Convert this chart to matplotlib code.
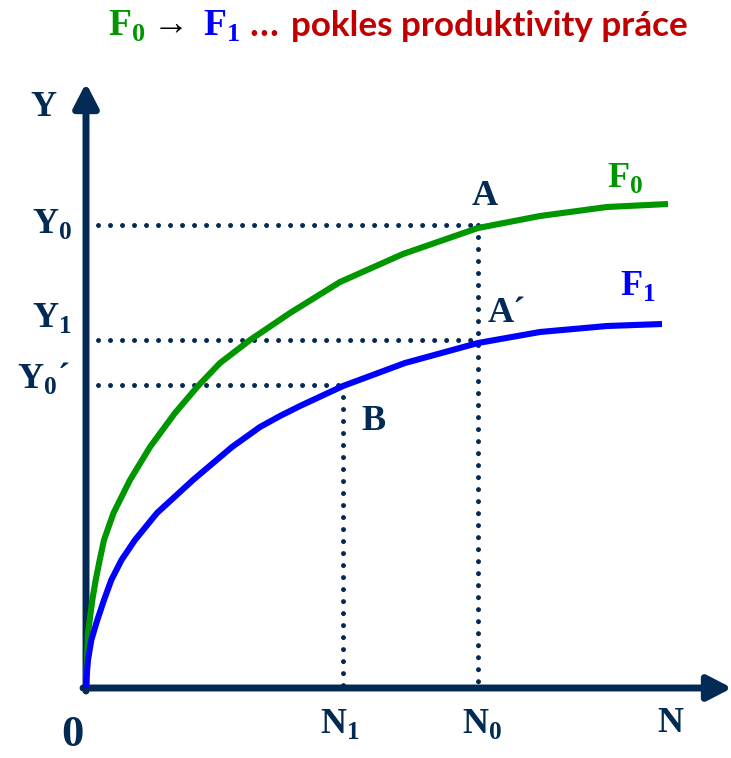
import matplotlib
matplotlib.use("Agg")
import matplotlib.pyplot as plt

plt.rcParams["mathtext.fontset"] = "custom"
plt.rcParams["mathtext.rm"] = "Liberation Serif"
plt.rcParams["mathtext.bf"] = "Liberation Serif:bold"

# production functions (N = labour, Y = output)
f0_n = [0, 0.1, 0.2, 0.37, 0.63, 0.97, 1.37, 1.8, 2.75, 4.4, 6.4, 8.9, 11.2, 13.4,
        16.4, 20.4, 25.4, 31.7, 39.2, 45.4, 52.1, 58.2]
f0_y = [0, 2.8, 5.5, 6.8, 8.8, 10.8, 12.8, 14.8, 17.5, 20.8, 24.1, 27.5, 30.2, 32.5,
        34.8, 37.5, 40.6, 43.4, 46.0, 47.2, 48.1, 48.4]
f1_n = [0, 0.03, 0.2, 0.53, 1.13, 1.8, 2.53, 3.55, 4.9, 7.1, 10.7, 14.6, 17.4, 19.4,
        21.4, 25.7, 31.9, 39.2, 45.4, 52.1, 57.6]
f1_y = [0, 0.8, 2.8, 4.8, 6.8, 8.8, 10.8, 12.8, 14.8, 17.5, 20.8, 24.1, 26.1, 27.2,
        28.2, 30.2, 32.5, 34.5, 35.6, 36.2, 36.4]

# marked levels
n0, n1 = 39.2, 25.7
y0, y1, y0p = 46.3, 34.8, 30.3
n_max, y_max = 64.6, 60.5

navy = "#022a54"
green = "#009600"
blue = "#0000ff"
red = "#c00000"

fig = plt.figure(figsize=(7.31, 7.58), dpi=100)
ax = fig.add_axes([0, 0, 1, 1])
ax.set_xlim(-8.6, 64.5)
ax.set_ylim(-7.0, 68.8)
ax.axis("off")

# axes with arrows
arr = dict(arrowstyle="-|>,head_length=1.45,head_width=0.75", color=navy, lw=5,
           mutation_scale=10, shrinkA=0, shrinkB=0)
ax.annotate("", xy=(0, y_max), xytext=(0, -0.3), arrowprops=arr, annotation_clip=False)
ax.annotate("", xy=(n_max, 0), xytext=(-0.3, 0), arrowprops=arr, annotation_clip=False)

# dotted guide lines
dots = dict(color=navy, lw=3.6, linestyle=(0, (0.001, 2.4)), dash_capstyle="round", zorder=2)
ax.plot([0, n0], [y0, y0], **dots)
ax.plot([n0, n0], [y0, 0], **dots)
ax.plot([0, n0], [y1, y1], **dots)
ax.plot([0, n1], [y0p, y0p], **dots)
ax.plot([n1, n1], [y0p, 0], **dots)

# curves
ax.plot(f0_n, f0_y, color=green, lw=4.4, solid_capstyle="butt", solid_joinstyle="round", zorder=3)
ax.plot(f1_n, f1_y, color=blue, lw=4.4, solid_capstyle="butt", solid_joinstyle="round", zorder=3)

serif = dict(family="Liberation Serif", weight="bold", fontsize=26, color=navy)

def px(x, y):
    return (x - 86) / 10, (688 - y) / 10

ax.text(*px(43, 116), "Y", ha="center", va="baseline", **serif)
ax.text(*px(72, 233), r"$\mathbf{Y}_\mathbf{0}$", ha="right", va="baseline", **serif)
ax.text(*px(72, 327), r"$\mathbf{Y}_\mathbf{1}$", ha="right", va="baseline", **serif)
ax.text(*px(70, 388), r"$\mathbf{Y}_\mathbf{0}$´", ha="right", va="baseline", **serif)
ax.text(*px(72, 746), "0", ha="center", va="baseline",
        family="Liberation Serif", weight="bold", fontsize=32, color=navy)
ax.text(*px(320, 733), r"$\mathbf{N}_\mathbf{1}$", ha="left", va="baseline", **serif)
ax.text(*px(462, 733), r"$\mathbf{N}_\mathbf{0}$", ha="left", va="baseline", **serif)
ax.text(*px(670, 732), "N", ha="center", va="baseline", **serif)
ax.text(*px(485, 205), "A", ha="center", va="baseline", **serif)
ax.text(*px(488, 322), "A´", ha="left", va="baseline", **serif)
ax.text(*px(373, 430), "B", ha="center", va="baseline", **serif)
ax.text(*px(607, 187), r"$\mathbf{F}_\mathbf{0}$", ha="left", va="baseline",
        **{**serif, "color": green})
ax.text(*px(620, 295), r"$\mathbf{F}_\mathbf{1}$", ha="left", va="baseline",
        **{**serif, "color": blue})

# title pieces
tb = 36
tser = dict(family="Liberation Serif", weight="bold", fontsize=27, va="baseline")
fig.text(108 / 731, 1 - tb / 758, r"$\mathbf{F}_\mathbf{0}$", color=green, ha="left", **tser)
fig.text(171 / 731, 1 - 22 / 758, "→", color="black", ha="center", va="center_baseline",
         family=["Liberation Serif", "DejaVu Serif"], fontsize=26)
fig.text(203 / 731, 1 - tb / 758, r"$\mathbf{F}_\mathbf{1}$", color=blue, ha="left", **tser)
fig.text(249 / 731, 1 - tb / 758, "…", color=red, ha="left", family="Lato",
         weight="bold", fontsize=27, va="baseline")
fig.text(291 / 731, 1 - tb / 758, "pokles produktivity práce", color=red, ha="left",
         family="Lato", weight="bold", fontsize=25.2, va="baseline")

plt.savefig("out.png", dpi=100)
